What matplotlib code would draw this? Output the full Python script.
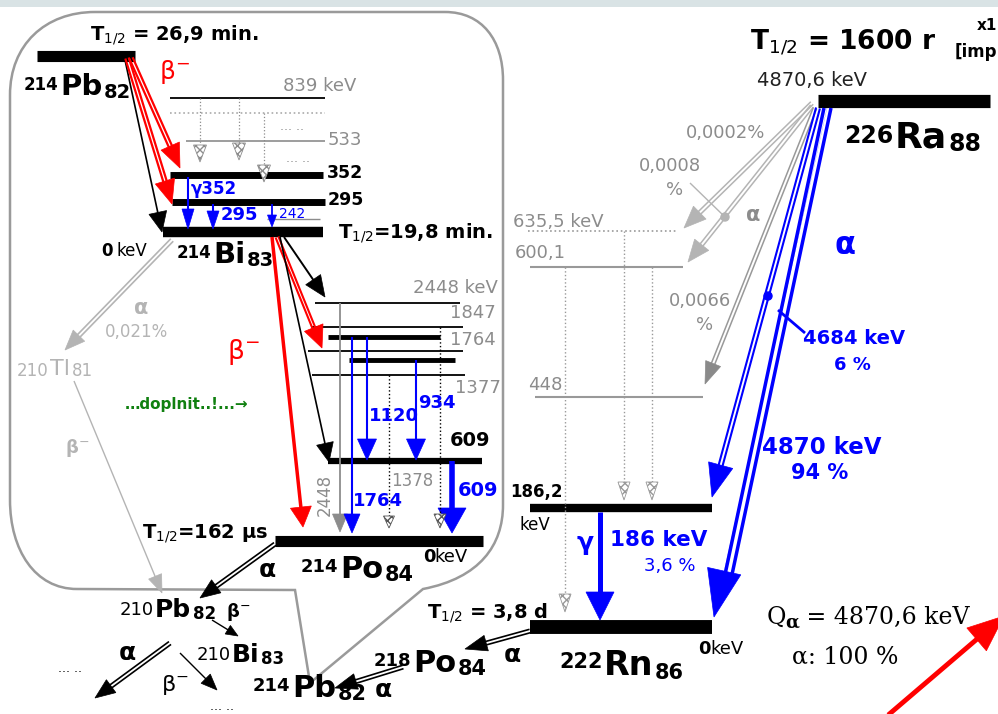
import numpy as np
import matplotlib.pyplot as plt
from matplotlib.patches import Polygon, PathPatch, Rectangle, Circle
from matplotlib.path import Path

plt.rcParams['font.family'] = ['DejaVu Sans']

# half-lives
t_pb214 = '26,9 min.'
t_bi214 = '19,8 min.'
t_po214 = '162 µs'
t_rn222 = '3,8 d'
t_ra226 = '1600 r'

# levels and transitions (keV, %)
bi214_levels = ['839 keV', '533', '352', '295']
bi214_gammas = ['352', '295', '242']
po214_levels = ['2448 keV', '1847', '1764', '1377', '609']
po214_gammas = ['1764', '1120', '934', '609']
po214_weak = ['2448', '1378']
rn222_levels = ['635,5 keV', '600,1', '448', '186,2']
rn222_gamma = ['186 keV', '3,6 %']
ra226_energy = '4870,6 keV'
ra226_alpha_e = ['4684 keV', '4870 keV']
ra226_alpha_i = ['6 %', '94 %']
ra226_weak = ['0,0002%', '0,0008', '0,0066']
tl210_branch = '0,021%'
q_alpha = '4870,6 keV'
alpha_total = '100 %'

BLUE = '#0000ff'
RED = '#ff0000'
GRAY = '#8c8c8c'
LGRAY = '#b4b4b4'

fig = plt.figure(figsize=(9.98, 7.14), dpi=100)
ax = fig.add_axes([0, 0, 1, 1])
ax.set_xlim(0, 998)
ax.set_ylim(714, 0)
ax.axis('off')


def line(x0, y0, x1, y1, c='k', lw=1.2, ls='-', z=2):
    ax.plot([x0, x1], [y0, y1], color=c, lw=lw, ls=ls, solid_capstyle='butt', zorder=z)


def arrow(x0, y0, x1, y1, c='k', lw=1.2, hl=14, hw=12, kind='solid', gap=3.0,
          hc=None, hatch=None, ls='-', z=3, head=True):
    d = np.array([x1 - x0, y1 - y0], float)
    u = d / np.hypot(*d)
    n = np.array([-u[1], u[0]])
    tip = np.array([x1, y1], float)
    base = tip - hl * u
    end = tip - 0.6 * hl * u
    if kind == 'hollow':
        for s in (-1, 1):
            p0 = np.array([x0, y0]) + s * gap / 2 * n
            p1 = end + s * gap / 2 * n
            line(p0[0], p0[1], p1[0], p1[1], c, lw, ls, z)
    else:
        line(x0, y0, end[0], end[1], c, lw, ls, z)
    if not head:
        return
    hc = hc or c
    pts = [tip, base + hw / 2 * n, base - hw / 2 * n]
    if hatch:
        ax.add_patch(Polygon(pts, closed=True, fc='white', ec=hc, hatch=hatch, lw=0.6, zorder=z))
    else:
        ax.add_patch(Polygon(pts, closed=True, fc=hc, ec=hc, lw=0.5, zorder=z))


def nuclide(x, y, a, sym, z, size, asize, zsize, c='k', w='bold', aw='bold'):
    t = ax.text(x, y, sym, fontsize=size, fontweight=w, color=c, va='baseline', ha='left')
    ax.annotate(a, xy=(0, 1), xycoords=t, xytext=(-1, -2), textcoords='offset points',
                fontsize=asize, fontweight=aw, color=c, ha='right', va='top')
    ax.annotate(z, xy=(1, 0), xycoords=t, xytext=(1, -1), textcoords='offset points',
                fontsize=zsize, fontweight=w, color=c, ha='left', va='bottom')


def txt(x, y, s, size=12, c='k', w='normal', ha='center', va='center', **kw):
    ax.text(x, y, s, fontsize=size, color=c, fontweight=w, ha=ha, va=va, **kw)


# top band
ax.add_patch(Rectangle((0, 0), 998, 7, color='#d9e3e5', lw=0, zorder=0))

# outline of the 214Pb -> 214Po part
M, L, C = Path.MOVETO, Path.LINETO, Path.CURVE4
verts = [(10, 500), (10, 95), (10, 45), (45, 12), (95, 12), (445, 12),
         (482, 12), (503, 40), (503, 80), (503, 505), (503, 545), (480, 578),
         (423, 589), (310, 683), (295, 590), (77, 589), (35, 589), (10, 550),
         (10, 500)]
codes = [M, L, C, C, C, L, C, C, C, L, C, C, C, L, L, L, C, C, C]
ax.add_patch(PathPatch(Path(verts, codes), fc='none', ec='#9a9a9a', lw=1.8, zorder=1))

# ---------------- 214Pb -> 214Bi ----------------
ax.text(90, 40, r'T$_{1/2}$ = ' + t_pb214, fontsize=14, fontweight='bold', va='baseline')
line(37, 56, 135, 56, lw=8)
nuclide(60, 95, '214', 'Pb', '82', 21, 12, 14)
txt(175, 72, 'β$^{-}$', 18, RED)

# Bi levels
line(170, 98, 325, 98, lw=1.3)
line(170, 113, 325, 113, '#aaaaaa', 1.2, ':')
line(186, 141, 325, 141, GRAY, 1.2)
line(170, 175, 323, 175, lw=5)
line(172, 202, 325, 202, lw=5)
line(267, 219, 320, 219, GRAY, 1.0)
line(163, 232, 323, 232, lw=7.5)
txt(320, 86, bi214_levels[0], 13, GRAY)
txt(345, 140, bi214_levels[1], 13, GRAY)
txt(345, 173, bi214_levels[2], 12.5, 'k', 'bold')
txt(346, 200, bi214_levels[3], 12.5, 'k', 'bold')
txt(292, 127, '... ..', 9, GRAY)
txt(298, 159, '... ..', 9, GRAY)
ax.text(113, 251, '0', fontsize=12, fontweight='bold', ha='right', va='center')
ax.text(117, 251, 'keV', fontsize=12, ha='left', va='center')
nuclide(213, 263, '214', 'Bi', '83', 21, 12, 14)
ax.text(338, 238, r'T$_{1/2}$=' + t_bi214, fontsize=14, fontweight='bold', va='baseline')

# weak gray cascades
arrow(200, 98, 200, 162, GRAY, 0.9, 17, 13, ls=':', hc=GRAY, hatch='xxxx')
arrow(239, 98, 239, 160, GRAY, 0.9, 17, 13, ls=':', hc=GRAY, hatch='xxxx')
arrow(264, 113, 264, 182, GRAY, 0.9, 17, 13, ls=':', hc=GRAY, hatch='xxxx')

# beta feeding from Pb
arrow(125, 60, 162, 232, 'k', 1.2, 20, 18)
arrow(131, 58, 180, 168, RED, 1.6, 24, 20, kind='hollow', gap=3.5)
arrow(127, 58, 172, 204, RED, 1.6, 24, 20, kind='hollow', gap=3.5)

# gammas in Bi
arrow(188, 177, 188, 229, BLUE, 1.5, 20, 12)
arrow(213, 204, 213, 229, BLUE, 1.5, 18, 12)
arrow(272, 204, 272, 227, BLUE, 1.3, 12, 9)
txt(191, 189, 'γ' + bi214_gammas[0], 12, BLUE, 'bold', ha='left')
txt(221, 215, bi214_gammas[1], 13, BLUE, 'bold', ha='left')
txt(279, 214, bi214_gammas[2], 10, BLUE, ha='left')

# ---------------- 214Bi -> 214Po ----------------
line(315, 303, 460, 303, lw=1.3)
line(312, 327, 463, 327, lw=1.3)
line(328, 337, 440, 337, lw=3.5)
line(308, 351, 463, 351, lw=1.3)
line(349, 360, 455, 360, lw=3.5)
line(312, 375, 465, 375, lw=1.3)
line(328, 461, 482, 461, lw=4.5)
line(275, 541, 483, 541, lw=8)
txt(455, 288, po214_levels[0], 13, GRAY)
txt(473, 313, po214_levels[1], 13, GRAY)
txt(473, 340, po214_levels[2], 13, GRAY)
txt(478, 388, po214_levels[3], 13, GRAY)
txt(470, 441, po214_levels[4], 14, 'k', 'bold')

arrow(272, 237, 303, 527, RED, 2.5, 20, 21)
arrow(277, 237, 322, 348, RED, 1.5, 22, 20, kind='hollow', gap=3)
arrow(284, 237, 325, 297, 'k', 1.4, 21, 18)
arrow(280, 237, 329, 462, 'k', 1.2, 19, 17)
txt(243, 352, 'β$^{-}$', 19, RED)

arrow(340, 303, 340, 532, GRAY, 1.3, 18, 15)
txt(325, 495, po214_weak[0], 12, GRAY, rotation=90)
arrow(352, 337, 352, 533, BLUE, 1.5, 19, 16)
arrow(367, 337, 367, 460, BLUE, 1.5, 21, 19)
arrow(416, 360, 416, 460, BLUE, 1.5, 21, 19)
arrow(452, 461, 452, 533, BLUE, 4, 25, 28)
arrow(389, 375, 389, 528, 'k', 1.0, 12, 11, ls=':', hc='#555555', hatch='xxxx')
arrow(440, 327, 440, 528, 'k', 1.0, 14, 12, ls=':', hc='#555555', hatch='xxxx')
txt(378, 501, po214_gammas[0], 13, BLUE, 'bold')
txt(394, 416, po214_gammas[1], 13, BLUE, 'bold')
txt(437, 403, po214_gammas[2], 13, BLUE, 'bold')
txt(478, 491, po214_gammas[3], 14, BLUE, 'bold')
txt(412, 481, po214_weak[1], 12, GRAY)

ax.text(423, 557, '0', fontsize=13, fontweight='bold', ha='left', va='center')
ax.text(434, 557, 'keV', fontsize=13, ha='left', va='center')
nuclide(340, 578, '214', 'Po', '84', 22, 13, 15)
ax.text(142, 538, r'T$_{1/2}$=' + t_po214, fontsize=14, fontweight='bold', va='baseline')

# Po -> 210Pb and the Tl branch
arrow(275, 544, 200, 598, 'k', 1.2, 20, 16, kind='hollow', gap=3.5)
txt(267, 570, 'α', 18, 'k', 'bold')
arrow(172, 240, 65, 350, LGRAY, 1.2, 20, 16, kind='hollow', gap=3.5)
txt(141, 308, 'α', 15, LGRAY, 'bold')
txt(137, 332, tl210_branch, 12, LGRAY)
nuclide(50, 375, '210', 'Tl', '81', 16, 12, 12, LGRAY, 'normal', 'normal')
arrow(74, 381, 162, 593, LGRAY, 1.0, 18, 14)
txt(77, 448, 'β$^{-}$', 13, LGRAY, 'bold')
txt(187, 405, '…doplnit..!...→', 11, '#108010', 'bold')

# lower part of the chain
nuclide(155, 617, '210', 'Pb', '82', 18, 13, 12, 'k', 'bold', 'normal')
arrow(212, 620, 238, 636, 'k', 1.0, 12, 10)
txt(238, 612, 'β$^{-}$', 13, 'k', 'bold')
nuclide(232, 662, '210', 'Bi', '83', 18, 13, 12, 'k', 'bold', 'normal')
arrow(170, 643, 95, 698, 'k', 1.2, 20, 16, kind='hollow', gap=3.5)
txt(127, 653, 'α', 18, 'k', 'bold')
arrow(180, 653, 217, 690, 'k', 1.0, 16, 13)
txt(175, 685, 'β$^{-}$', 16, 'k')
txt(70, 668, '... ..', 9, 'k')
txt(222, 707, '... ..', 9, 'k')
nuclide(292, 697, '214', 'Pb', '82', 22, 13, 15)

# ---------------- 226Ra -> 222Rn ----------------
ax.text(750, 50, r'T$_{1/2}$ = ' + t_ra226, fontsize=19, fontweight='bold', va='baseline')
txt(997, 25, 'x1', 11, 'k', 'bold', ha='right')
txt(997, 52, '[imp', 12, 'k', 'bold', ha='right')
txt(812, 80, ra226_energy, 14, '#222222')
line(818, 101, 990, 101, lw=9.5)
nuclide(895, 148, '226', 'Ra', '88', 26, 17, 17)

line(528, 231, 678, 231, '#999999', 1.2, ':')
line(530, 267, 683, 267, '#999999', 1.5)
line(535, 397, 703, 397, '#999999', 1.5)
line(530, 508, 712, 508, lw=6)
line(530, 627, 712, 627, lw=10)
txt(558, 222, rn222_levels[0], 13, GRAY)
txt(540, 253, rn222_levels[1], 13, GRAY)
txt(545, 385, rn222_levels[2], 13, GRAY)
txt(536, 492, rn222_levels[3], 12, 'k', 'bold')
txt(535, 525, 'keV', 12, 'k')

arrow(565, 267, 565, 612, '#999999', 1.0, 18, 12, ls=':', hc='#999999', hatch='xxxx')
arrow(624, 231, 624, 500, '#999999', 1.0, 18, 12, ls=':', hc='#999999', hatch='xxxx')
arrow(652, 267, 652, 500, '#999999', 1.0, 18, 12, ls=':', hc='#999999', hatch='xxxx')

# weak alpha branches
arrow(812, 103, 684, 228, LGRAY, 1.1, 22, 18, kind='hollow', gap=3.5)
arrow(812, 106, 688, 262, LGRAY, 1.1, 22, 18, kind='hollow', gap=3.5)
arrow(815, 108, 705, 384, '#999999', 1.1, 22, 16, kind='hollow', gap=3.5, hc='#8a8a8a')
line(690, 183, 725, 217, LGRAY, 1.0)
ax.add_patch(Circle((725, 217), 4, color=LGRAY, zorder=4))
txt(726, 133, ra226_weak[0], 13, GRAY)
txt(670, 166, ra226_weak[1], 13, GRAY)
txt(675, 190, '%', 13, GRAY)
txt(700, 301, ra226_weak[2], 13, GRAY)
txt(705, 325, '%', 13, GRAY)
txt(753, 215, 'α', 15, GRAY, 'bold')
txt(845, 245, 'α', 22, BLUE, 'bold')

# main alpha lines
arrow(818, 108, 712, 497, BLUE, 1.5, 33, 25, kind='hollow', gap=4)
ax.add_patch(Circle((768, 296), 4, color=BLUE, zorder=4))
line(778, 310, 805, 333, BLUE, 2)
arrow(824, 108, 716, 617, BLUE, 2.5, 47, 34, head=False)
arrow(831, 108, 723, 617, BLUE, 2.5, 47, 34, head=False)
arrow(827, 108, 714, 617, BLUE, 0.1, 47, 34)
txt(854, 338, ra226_alpha_e[0], 14, BLUE, 'bold')
txt(852, 365, ra226_alpha_i[0], 13, BLUE, 'bold')
txt(822, 447, ra226_alpha_e[1], 16.5, BLUE, 'bold')
txt(820, 473, ra226_alpha_i[1], 15, BLUE, 'bold')

# gamma 186
arrow(600, 512, 600, 620, BLUE, 3.6, 28, 28)
txt(585, 543, 'γ', 18, BLUE, 'bold')
txt(659, 540, rn222_gamma[0], 15.5, BLUE, 'bold')
txt(670, 566, rn222_gamma[1], 13, BLUE)

ax.text(698, 649, '0', fontsize=13, fontweight='bold', ha='left', va='center')
ax.text(710, 649, 'keV', fontsize=13, ha='left', va='center')
nuclide(604, 675, '222', 'Rn', '86', 24, 15, 15)
ax.text(427, 618, r'T$_{1/2}$ = ' + t_rn222, fontsize=14, fontweight='bold', va='baseline')

arrow(530, 631, 465, 649, 'k', 1.2, 22, 16, kind='hollow', gap=3.5)
txt(512, 655, 'α', 18, 'k', 'bold')
nuclide(413, 672, '218', 'Po', '84', 22, 13, 15)
arrow(403, 667, 335, 688, 'k', 1.2, 22, 16, kind='hollow', gap=3.5)
txt(383, 690, 'α', 18, 'k', 'bold')

# Q value
q = ax.text(767, 624, 'Q', fontsize=17, family='DejaVu Serif', va='baseline')
qa = ax.annotate('α', xy=(1, 0), xycoords=q, xytext=(-1, 1), textcoords='offset points',
                 fontsize=13, family='DejaVu Serif', fontweight='bold', va='baseline', ha='left')
ax.annotate(' = ' + q_alpha, xy=(1, 0), xycoords=(qa, q), xytext=(0, 0),
            textcoords='offset points', fontsize=17, family='DejaVu Serif',
            va='bottom', ha='left')
ax.text(792, 657, 'α: ' + alpha_total, fontsize=17, family='DejaVu Serif', va='center')

arrow(880, 722, 1004, 616, RED, 3.5, 36, 30, z=5)

plt.savefig('out.png', dpi=100)
